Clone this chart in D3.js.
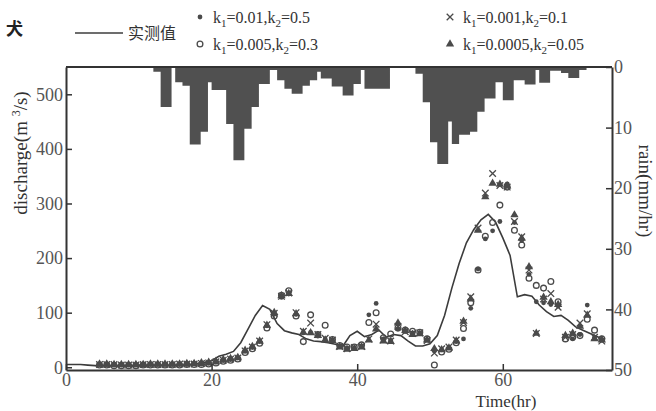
<!DOCTYPE html>
<html><head><meta charset="utf-8">
<script src="https://cdn.jsdelivr.net/npm/d3@7"></script>
<style>body{margin:0;background:#fff}svg{display:block}</style>
</head><body>
<svg id="c" width="656" height="411"></svg>
<script>
// ---------- data ----------
const obsHours = d3.range(0, 75);
const observed = [5,5,5,4,3,3,3,3,3,3, 4,4,4,4,4,4,4,5,7,9,
  12,20,24,29,45,70,95,113,106,80, 67,63,60,52,48,47,45,42,38,58,
  66,56,60,68,55,60,58,48,39,39, 43,58,95,145,190,228,252,270,280,266,
  237,205,129,133,130,114,102,93,95,86, 74,68,62,56,50];

const modelHours = d3.range(4, 74).map(h => h + 0.6);
const s1 = [5,5,4,4,4,4,4,5,5,5,5,5,5,6,6,7,
  9,12,14,17,29,36,47,76,97,128,134,97,63,64,57,52,49,39,35,35,39,96,117,52,49,70,66,63,62,50,
  30,32,36,47,52,108,180,235,250,267,336,265,232,170,120,118,115,112,58,52,60,114,55,50];
const s2 = [4,4,3,3,3,3,4,4,4,4,4,4,5,5,5,6,
  8,11,13,15,27,34,44,72,94,132,140,94,47,96,60,77,51,40,37,37,41,82,100,54,61,72,68,66,64,52,
  4,28,33,45,71,118,178,240,265,297,330,251,224,163,150,145,157,120,52,55,58,88,68,52];
const s3 = [5,5,5,4,4,4,5,5,5,5,5,6,6,6,7,8,
  10,13,15,17,30,37,48,78,99,130,136,100,66,81,60,53,50,38,34,36,38,52,79,50,48,75,65,62,63,49,
  26,34,37,50,82,129,255,319,355,333,330,267,239,178,62,125,135,110,55,60,81,98,55,48];
const s4 = [6,6,5,5,5,5,5,6,6,6,6,6,7,7,8,9,
  11,14,16,18,31,38,48,77,100,131,135,98,64,63,58,50,49,37,33,34,37,50,70,48,47,81,67,60,61,50,
  34,32,35,48,84,125,251,312,337,335,332,279,236,184,62,128,120,115,58,62,75,95,52,50];

const rainStart = 12, rainStep = 0.5;
const rain = [0.8,0.8, 6.6,6.6,6.6, 0, 2.5,2.5, 3.1,3.1, 12.8,12.8,12.8, 10.7,10.7, 2.5,
  3.8,3.8,3.8,3.8, 9.4,9.4, 15.4,15.4,15.4, 10.2,10.2, 6.6,6.6, 2.8,2.8,2.8, 0.5,0.5,
  2.2,2.2, 3.6,3.6, 4.4,4.4,4.4, 3.1,3.1, 2.2,2.2, 0.8, 1.9,1.9,1.9, 3.2,3.2,3.2,
  4.7,4.7,4.7, 2.8,2.8, 0.5, 3.6,3.6,3.6,3.6,3.6,3.6,3.6, 0,0,0,0,0,0,0,
  1.1,1.1, 5.8,5.8, 12.4,12.4, 16,16,16, 9.0, 12.7,12.7, 11.2,11.2,11.2, 10.7,10.7,
  7.4,7.4, 5.2,5.2,5.2, 2.5,2.5, 5.5,5.5,5.5, 2.2,2.2,2.2, 2.9,2.9,2.9, 0.5,
  2.6,2.6,2.6, 0.6,0.6,0.6, 1.0,1.0, 1.8,1.8,1.8, 0.5,0.5];

const xTicks = [0, 20, 40, 60];
const qTicks = [0, 100, 200, 300, 400, 500];
const rTicks = [0, 10, 20, 30, 40, 50];
const legendLabels = [
  ["0.01", "0.5"], ["0.005", "0.3"], ["0.001", "0.1"], ["0.0005", "0.05"]
];

// ---------- drawing ----------
const svg = d3.select("#c");
const L = 66, R = 612, T = 67, B = 370;
const x = d3.scaleLinear([0, 75], [L, R]);
const yQ = d3.scaleLinear([-5, 550], [B, T]);
const yR = d3.scaleLinear([0, 50], [T, B]);
const ink = "#4a4a4a";
const serif = "'Liberation Serif','Times New Roman',serif";

// rain bars (contiguous step area hanging from top)
const rainPts = rain.map((d, i) => [rainStart + i * rainStep, d]);
rainPts.push([rainStart + rain.length * rainStep, 0]);
svg.append("path")
  .datum(rainPts)
  .attr("fill", "#505050")
  .attr("d", d3.area().curve(d3.curveStepAfter)
    .x(d => x(d[0])).y0(yR(0)).y1(d => yR(d[1])));

// observed line
svg.append("path")
  .datum(observed)
  .attr("fill", "none").attr("stroke", "#3c3c3c").attr("stroke-width", 1.6)
  .attr("d", d3.line().x((d, i) => x(obsHours[i])).y(d => yQ(d)));

// model points
const symX = d3.symbolTimes || d3.symbolX || d3.symbolCross;
const series = [
  {data: s1, type: d3.symbolCircle, size: 18, fill: ink, stroke: "none"},
  {data: s2, type: d3.symbolCircle, size: 26, fill: "none", stroke: ink},
  {data: s3, type: symX, size: 30, fill: "none", stroke: ink},
  {data: s4, type: d3.symbolTriangle, size: 30, fill: ink, stroke: "none"}
];
series.forEach(s => {
  svg.append("g").selectAll("path").data(s.data).join("path")
    .attr("transform", (d, i) => `translate(${x(modelHours[i])},${yQ(d)})`)
    .attr("d", d3.symbol(s.type, s.size)())
    .attr("fill", s.fill).attr("stroke", s.stroke).attr("stroke-width", 1.3);
});

// frame top
svg.append("line").attr("x1", L).attr("x2", R).attr("y1", T).attr("y2", T)
  .attr("stroke", "#333").attr("stroke-width", 2);

function styleAxis(g) {
  g.select(".domain").attr("stroke", "#333").attr("stroke-width", 2);
  g.selectAll(".tick line").attr("stroke", "#333").attr("stroke-width", 1.5);
  g.selectAll(".tick text").attr("fill", "#555").attr("font-family", serif).attr("font-size", 18);
}
svg.append("g").attr("transform", `translate(${L},0)`)
  .call(d3.axisLeft(yQ).tickValues(qTicks).tickSize(-6).tickSizeOuter(0).tickPadding(3))
  .call(styleAxis);
svg.append("g").attr("transform", `translate(${R},0)`)
  .call(d3.axisRight(yR).tickValues(rTicks).tickSize(-6).tickSizeOuter(0).tickPadding(2))
  .call(styleAxis);
svg.append("g").attr("transform", `translate(0,${B})`)
  .call(d3.axisBottom(x).tickValues(xTicks).tickSize(-6).tickSizeOuter(0).tickPadding(3))
  .call(styleAxis);

// axis titles
const yt = svg.append("text").attr("transform", "translate(27,153) rotate(-90)")
  .attr("text-anchor", "middle").attr("font-family", serif).attr("font-size", 19).attr("fill", "#333");
yt.append("tspan").text("discharge(m ");
yt.append("tspan").attr("dy", -7).attr("font-size", 12).text("3");
yt.append("tspan").attr("dy", 7).text("/s)");

svg.append("text").attr("transform", "translate(639,191) rotate(90)")
  .attr("text-anchor", "middle").attr("font-family", serif).attr("font-size", 19).attr("fill", "#333")
  .text("rain(mm/hr)");

svg.append("text").attr("x", 506).attr("y", 407).attr("text-anchor", "middle")
  .attr("font-family", serif).attr("font-size", 17).attr("fill", "#333").text("Time(hr)");

// clipped title fragment
svg.append("text").attr("x", 6).attr("y", 35).attr("font-family", "'Noto Sans CJK SC'")
  .attr("font-weight", "bold").attr("font-size", 17).attr("fill", "#222").text("犬");

// legend
svg.append("line").attr("x1", 75).attr("x2", 123).attr("y1", 33).attr("y2", 33)
  .attr("stroke", "#3c3c3c").attr("stroke-width", 1.6);
svg.append("text").attr("x", 128).attr("y", 39).attr("font-family", "'Noto Sans CJK SC'")
  .attr("font-size", 16).attr("fill", "#333").text("实测值");

const legPos = [[200, 17], [200, 44], [450, 17], [450, 44]];
series.forEach((s, i) => {
  const [lx, ly] = legPos[i];
  svg.append("path").attr("transform", `translate(${lx},${ly})`)
    .attr("d", d3.symbol(s.type, s.size)())
    .attr("fill", s.fill).attr("stroke", s.stroke).attr("stroke-width", 1.3);
  const t = svg.append("text").attr("x", lx + 13).attr("y", ly + 6)
    .attr("font-family", serif).attr("font-size", 16).attr("fill", "#333");
  t.append("tspan").text("k");
  t.append("tspan").attr("dy", 4).attr("font-size", 11).text("1");
  t.append("tspan").attr("dy", -4).text("=" + legendLabels[i][0] + ",k");
  t.append("tspan").attr("dy", 4).attr("font-size", 11).text("2");
  t.append("tspan").attr("dy", -4).text("=" + legendLabels[i][1]);
});
</script>
</body></html>
